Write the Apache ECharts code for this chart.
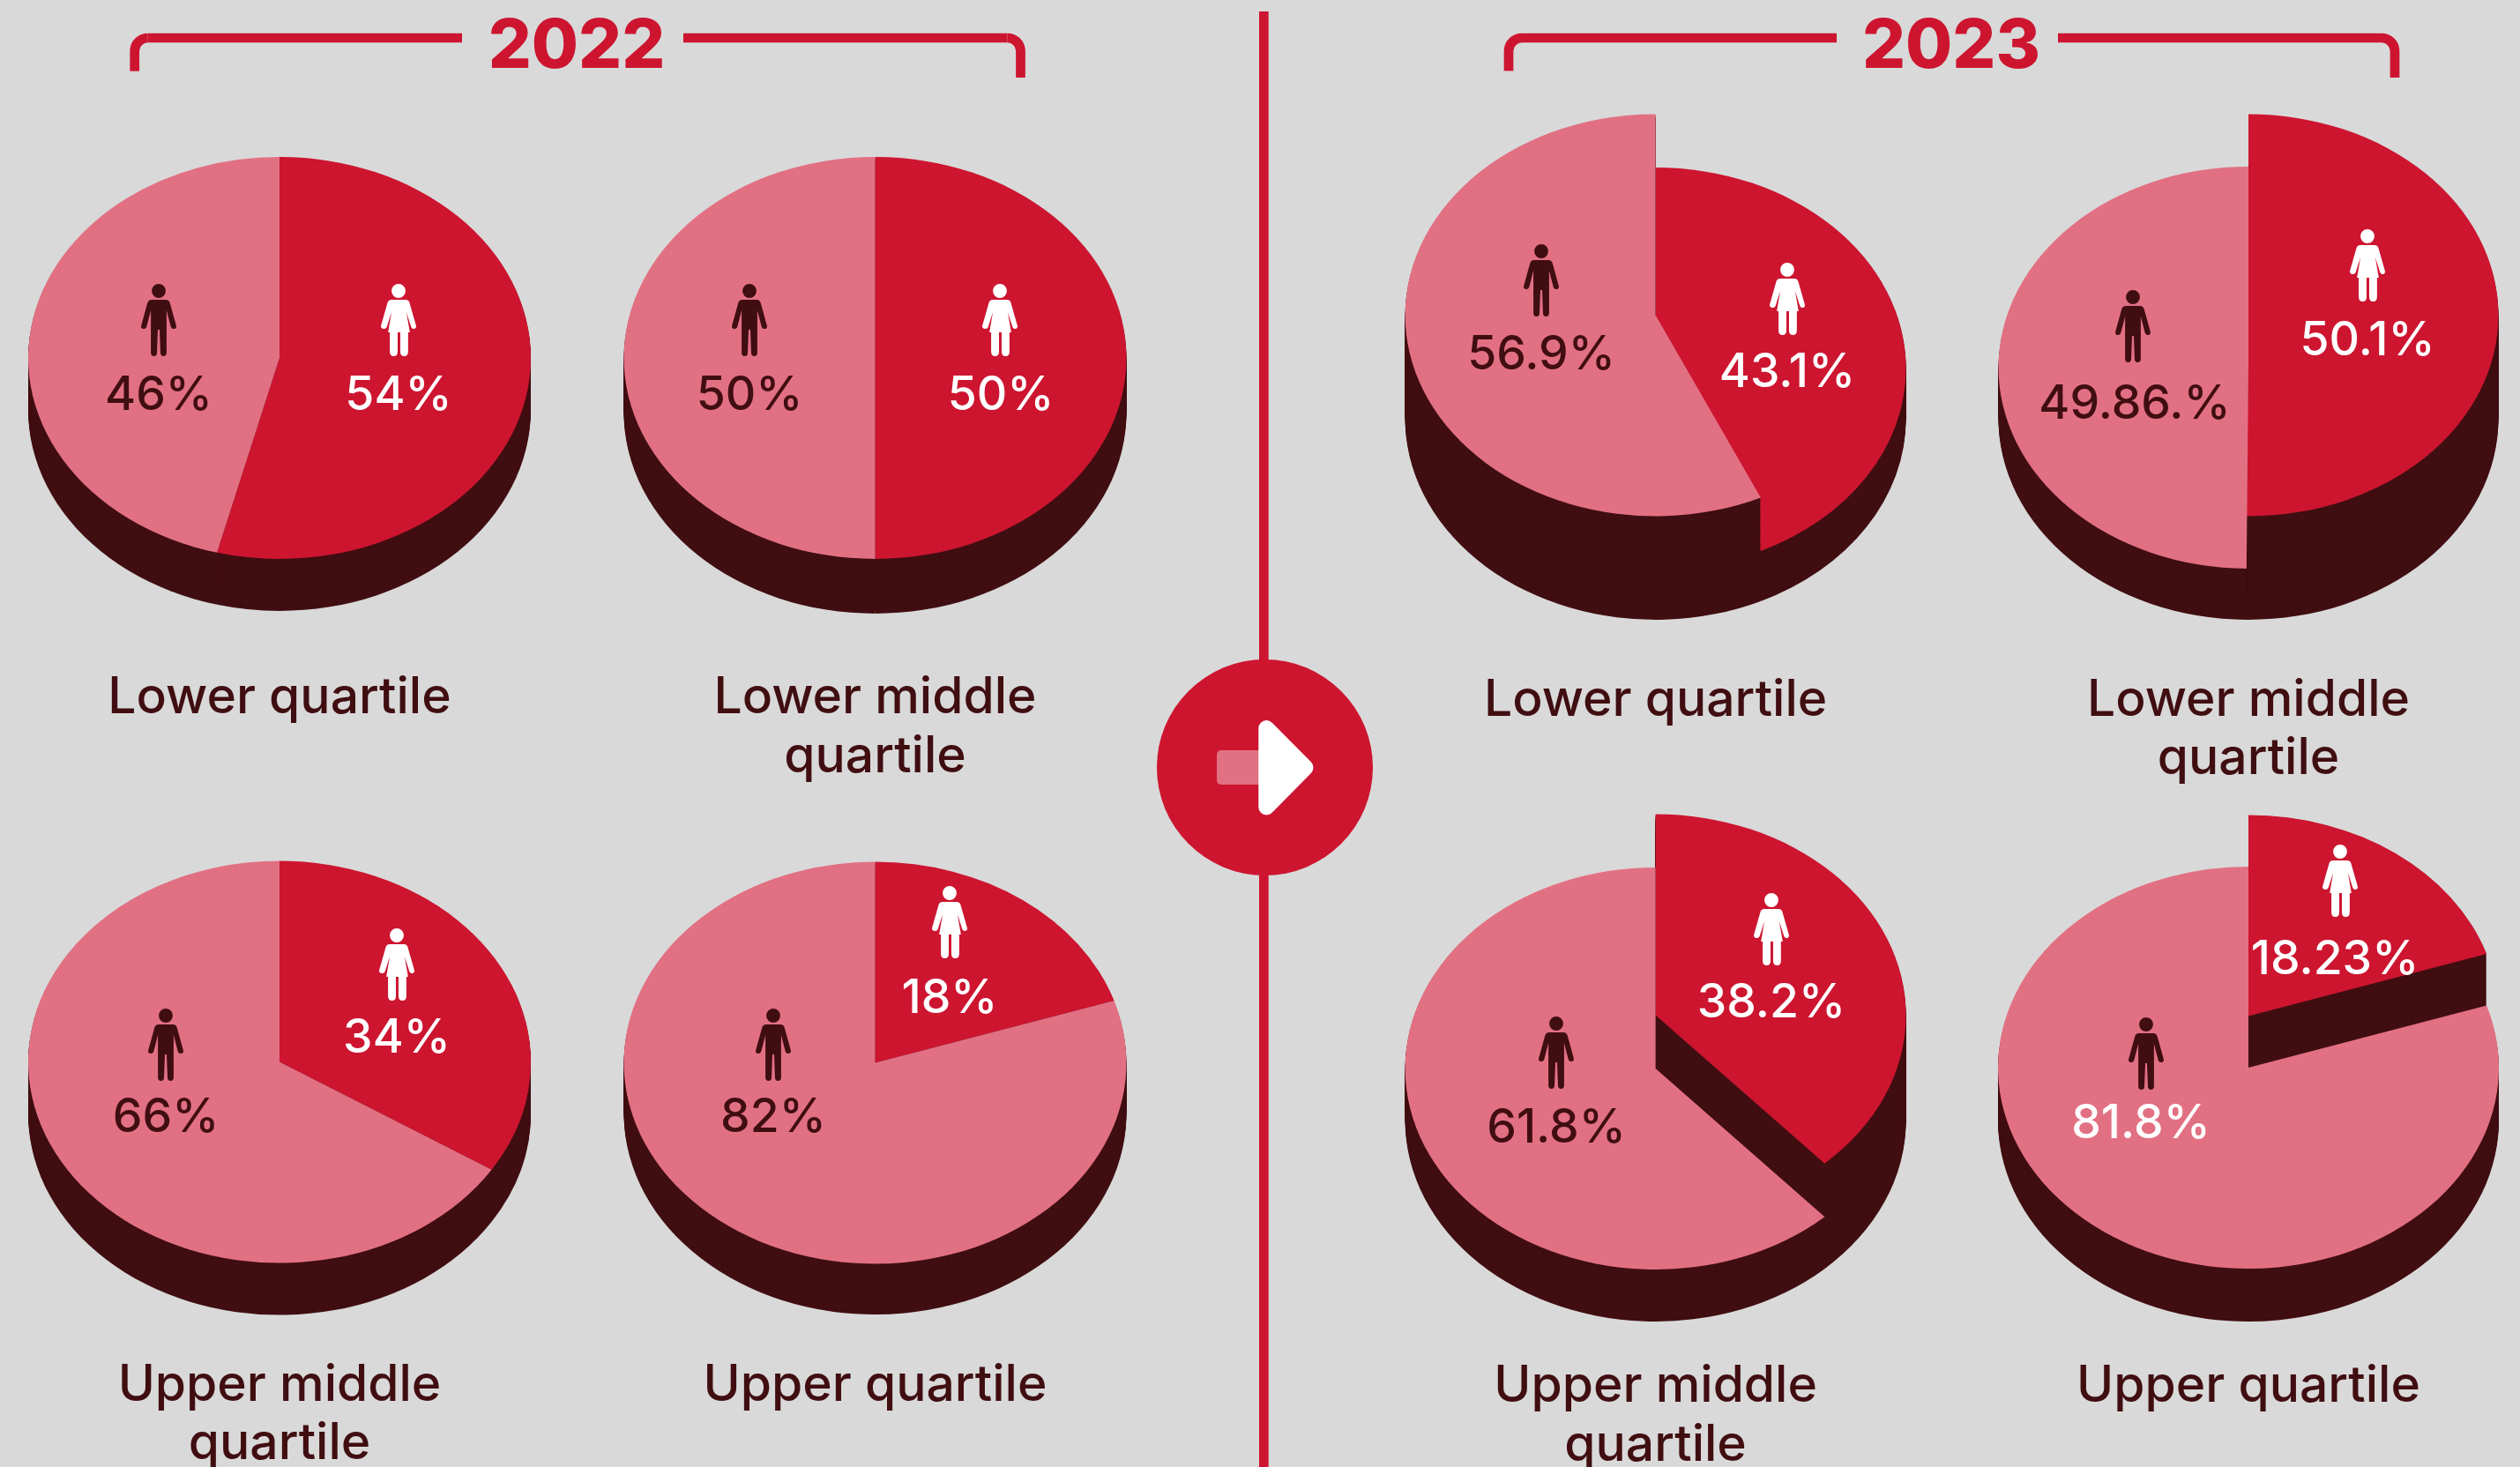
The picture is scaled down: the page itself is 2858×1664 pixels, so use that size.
<!DOCTYPE html>
<html>
<head>
<meta charset="utf-8">
<style>html,body{margin:0;padding:0;background:#d9d9d9}#c{width:2858px;height:1664px}</style>
<script src="https://cdn.jsdelivr.net/npm/echarts@6/dist/echarts.min.js"></script>
</head>
<body>
<div id="c"></div>
<script>
// ---- data ----
const years = ['2022', '2023'];
const quartiles = ['Lower quartile', 'Lower middle\nquartile', 'Upper middle\nquartile', 'Upper quartile'];
// printed labels
const womenLabels2022 = ['54%', '50%', '34%', '18%'];
const menLabels2022 = ['46%', '50%', '66%', '82%'];
const womenLabels2023 = ['43.1%', '50.1%', '38.2%', '18.23%'];
const menLabels2023 = ['56.9%', '49.86.%', '61.8%', '81.8%'];
// slice sizes as drawn (the upper-quartile slices are drawn at about 20% in the picture)
const womenShare2022 = [54, 50, 34, 20];
const menShare2022 = [46, 50, 66, 80];
const womenShare2023 = [43.1, 50.1, 38.2, 20];
const menShare2023 = [56.9, 49.86, 61.8, 80];

// ---- layout ----
const RED = '#cd1530', PINK = '#e27083', DARK = '#400e11', WHITE = '#ffffff';
const FONT = 'Inter, "Open Sans", sans-serif';
// cx, rx, ry, redCy, pinkCy, bottom disc cy
const pieLayout = [
  [317, 285, 228, 406, 406, 465],
  [992.5, 285, 228, 406, 406, 468],
  [317, 285, 228, 1204.6, 1204.6, 1263.6],
  [992.5, 285, 228, 1205.5, 1205.5, 1263],
  [1877.6, 284, 228, 418, 357.5, 475],
  [2550, 283.5, 228, 357.5, 417, 475],
  [1877.6, 284, 228, 1151.5, 1212, 1271],
  [2550, 284, 228, 1152.5, 1211, 1271]
];
const captionY = [[792, 859], [792, 859], [1572, 1638], [1572, 1638], [795, 861], [795, 861], [1573, 1640], [1573, 1640]];
// women: icon x, icon y, label x, label y ; men: same
const womenCallout = [
  [452, 363, 452, 449], [1134, 363, 1135, 449], [450, 1094, 450, 1178], [1077, 1046, 1077, 1133],
  [2027, 339, 2027, 423], [2685, 301, 2685, 387], [2009, 1054, 2009, 1138], [2654, 999, 2648, 1089]
];
const menCallout = [
  [180, 363, 180, 449], [850, 363, 850, 449], [188, 1185, 188, 1268], [877, 1185, 877, 1268],
  [1748, 318, 1748, 403], [2419, 370, 2421, 459], [1765, 1194, 1765, 1280], [2434, 1195, 2428, 1275]
];

const MAN = 'M12 8a8 8 0 1 0 16 0a8 8 0 1 0 -16 0Z M12 18H28Q32 18 33 22L40 47Q41 50 38 51Q35 51.5 34 49L29 30V78Q29 82 25.5 82Q22 82 22 78L21 52H19L18 78Q18 82 14.5 82Q11 82 11 78V30L6 49Q5 51.5 2 51Q-1 50 0 47L7 22Q8 18 12 18Z';
const WOMAN = 'M12 8a8 8 0 1 0 16 0a8 8 0 1 0 -16 0Z M12 18H28Q31.5 18 32.5 21L40 47Q41 50 38 51Q35.5 51.5 34.5 49L29 32L33 55H31V77Q31 82 26.5 82Q22 82 22 77V55H19V77Q19 82 14.5 82Q10 82 10 77V55H8L12 32L6.5 49Q5.5 51.5 2.5 51Q-1 50 0 47L7.5 21Q8.5 18 12 18Z';

// ---- rows built from the arrays ----
const womenShare = womenShare2022.concat(womenShare2023);
const menShare = menShare2022.concat(menShare2023);
const womenLabels = womenLabels2022.concat(womenLabels2023);
const menLabels = menLabels2022.concat(menLabels2023);
const SWEEP = 0, FACE = 1;
const sliceRows = [];
womenShare.forEach((w, i) => {
  const total = w + menShare[i], split = w / total, m = menShare[i] / total;
  const women = part => [i, 1, 0, split, part], men = part => [i, 0, split, m, part];
  // a raised men's slice hides the women's face with its side wall; otherwise the faces go on top of both walls
  const order = pieLayout[i][4] < pieLayout[i][3]
    ? [women(SWEEP), women(FACE), men(SWEEP), men(FACE)]
    : [women(SWEEP), men(SWEEP), women(FACE), men(FACE)];
  order.forEach(r => sliceRows.push(r));
});
const calloutRows = [];
womenShare.forEach((w, i) => { calloutRows.push([i, 1]); calloutRows.push([i, 0]); });

function sector(cx, cy, rx, ry, a0, a1, fill) {
  return {
    type: 'group', x: cx, y: cy, scaleY: ry / rx,
    children: [{ type: 'sector', shape: { cx: 0, cy: 0, r0: 0, r: rx, startAngle: a0, endAngle: a1, clockwise: true }, style: { fill: fill } }]
  };
}
function renderSlice(params, api) {
  const p = pieLayout[api.value(0)], isWomen = api.value(1) === 1;
  const a0 = -Math.PI / 2 + api.value(2) * 2 * Math.PI;
  const a1 = a0 + api.value(3) * 2 * Math.PI;
  const cy = isWomen ? p[3] : p[4];
  const children = [];
  if (api.value(4) === SWEEP) {
    for (let y = p[5]; y > cy; y -= 2) children.push(sector(p[0], y, p[1], p[2], a0, a1, DARK));
  } else {
    children.push(sector(p[0], cy, p[1], p[2], a0, a1, isWomen ? RED : PINK));
  }
  return { type: 'group', children: children };
}
function renderCallout(params, api) {
  const i = api.value(0), isWomen = api.value(1) === 1;
  const c = (isWomen ? womenCallout : menCallout)[i];
  const light = isWomen || i === 7;
  const iconFill = isWomen ? WHITE : DARK;
  return {
    type: 'group',
    children: [
      { type: 'path', shape: { pathData: isWomen ? WOMAN : MAN, layout: 'cover', x: c[0] - 20, y: c[1] - 41, width: 40, height: 82 }, style: { fill: iconFill } },
      { type: 'text', style: { text: (isWomen ? womenLabels : menLabels)[i], x: c[2], y: c[3], fill: light ? WHITE : DARK,
        fontSize: 53.5, fontFamily: FONT, fontWeight: 500, align: 'center', verticalAlign: 'middle' } }
    ]
  };
}

// ---- decoration ----
const STROKE = 10.7;
function bracket(l, a, b, r, bl, br) {
  const R = 15, y = 43, lw = STROKE;
  const st = { fill: RED };
  return [
    { type: 'rect', z: 1, shape: { x: l - lw / 2, y: y + R, width: lw, height: bl - y - R }, style: st },
    { type: 'arc', z: 1, shape: { cx: l + R, cy: y + R, r: R, startAngle: Math.PI, endAngle: Math.PI * 1.5 }, style: { stroke: RED, lineWidth: lw, fill: 'none' } },
    { type: 'rect', z: 1, shape: { x: l + R, y: y - lw / 2, width: a - l - R, height: lw }, style: st },
    { type: 'rect', z: 1, shape: { x: b, y: y - lw / 2, width: r - R - b, height: lw }, style: st },
    { type: 'arc', z: 1, shape: { cx: r - R, cy: y + R, r: R, startAngle: Math.PI * 1.5, endAngle: Math.PI * 2 }, style: { stroke: RED, lineWidth: lw, fill: 'none' } },
    { type: 'rect', z: 1, shape: { x: r - lw / 2, y: y + R, width: lw, height: br - y - R }, style: st }
  ];
}
const graphics = [
  { type: 'rect', z: 1, shape: { x: 1428, y: 13, width: STROKE, height: 1651 }, style: { fill: RED } },
  { type: 'circle', z: 1, shape: { cx: 1434.5, cy: 870.5, r: 122.5 }, style: { fill: RED } },
  { type: 'rect', z: 2, shape: { x: 1380, y: 851, width: 60, height: 39, r: 5 }, style: { fill: PINK } },
  { type: 'polygon', z: 3, shape: { points: [[1436.3, 826], [1480.5, 870.7], [1436.3, 915.4]] }, style: { fill: WHITE, stroke: WHITE, lineWidth: 18, lineJoin: 'round' } },
  { type: 'text', z: 3, style: { text: years[0], x: 654, y: 54, fill: RED, fontSize: 77, fontWeight: 800, fontFamily: FONT, align: 'center', verticalAlign: 'middle' } },
  { type: 'text', z: 3, style: { text: years[1], x: 2213, y: 54, fill: RED, fontSize: 77, fontWeight: 800, fontFamily: FONT, align: 'center', verticalAlign: 'middle' } }
].concat(bracket(152.7, 524, 775, 1157.5, 80.7, 88), bracket(1711, 2083, 2334, 2716, 80.4, 88));
const captionIndex = [0, 1, 2, 3, 0, 1, 2, 3];
captionIndex.forEach((q, i) => {
  quartiles[q].split('\n').forEach((line, k) => {
    graphics.push({ type: 'text', z: 3, style: { text: line, x: pieLayout[i][0], y: captionY[i][k], fill: DARK,
      fontSize: 57, fontWeight: 500, fontFamily: FONT, align: 'center', verticalAlign: 'middle' } });
  });
});

const chart = echarts.init(document.getElementById('c'), null, { renderer: 'canvas' });
chart.setOption({
  backgroundColor: '#d9d9d9',
  animation: false,
  graphic: graphics,
  series: [
    { type: 'custom', name: 'slices', coordinateSystem: 'none', silent: true, z: 2, data: sliceRows, renderItem: renderSlice },
    { type: 'custom', name: 'callouts', coordinateSystem: 'none', silent: true, z: 4, data: calloutRows, renderItem: renderCallout }
  ]
});
</script>
</body>
</html>
